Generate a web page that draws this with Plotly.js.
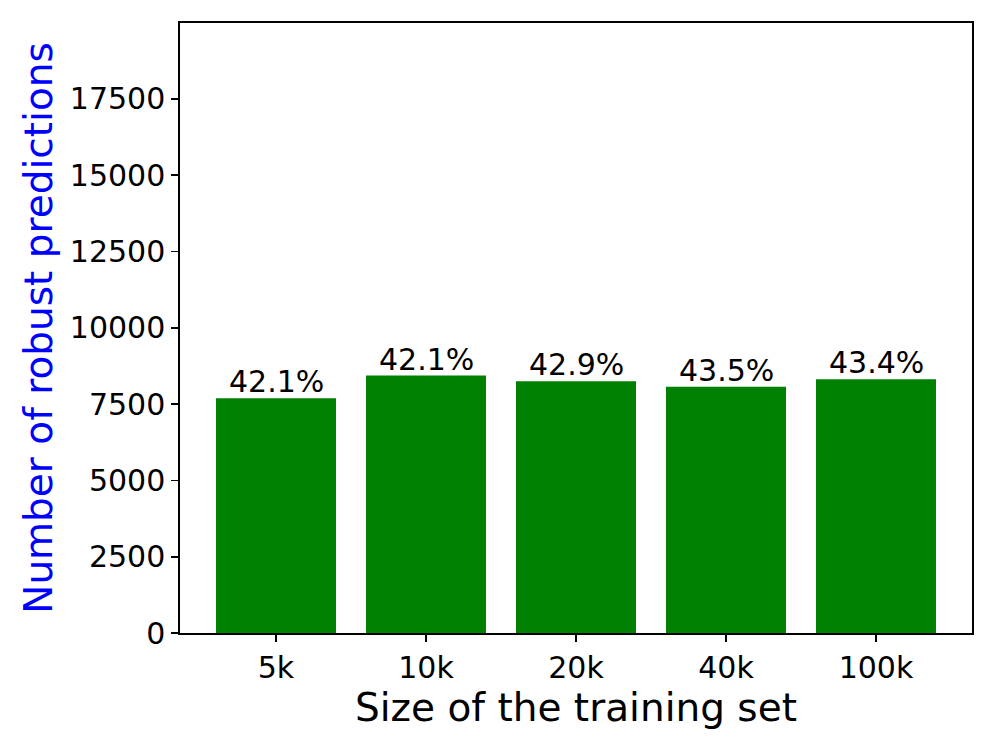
<!DOCTYPE html>
<html>
<head>
<meta charset="utf-8">
<script src="https://cdn.plot.ly/plotly-3.0.1.min.js"></script>
<style>html,body{margin:0;padding:0;background:#fff;}#chart{width:996px;height:747px;}</style>
</head>
<body>
<div id="chart"></div>
<script>
const categories = ["5k", "10k", "20k", "40k", "100k"];
const robustCounts = [7691, 8432, 8248, 8071, 8314];
const percentLabels = ["42.1%", "42.1%", "42.9%", "43.5%", "43.4%"];
const yTickValues = [0, 2500, 5000, 7500, 10000, 12500, 15000, 17500];

const font = "DejaVu Sans, sans-serif";

const trace = {
  type: "bar",
  x: categories,
  y: robustCounts,
  width: 0.8,
  marker: {color: "#008000", line: {width: 0}},
  hoverinfo: "skip"
};

const annotations = categories.map((c, i) => ({
  x: c, y: robustCounts[i], xref: "x", yref: "y",
  text: percentLabels[i], showarrow: false,
  xanchor: "center", yanchor: "bottom", yshift: -3,
  font: {family: font, size: 30, color: "#000"}
}));

const layout = {
  width: 996, height: 747,
  margin: {l: 180, r: 24, t: 23, b: 114},
  paper_bgcolor: "#fff", plot_bgcolor: "#fff",
  showlegend: false,
  font: {family: font, color: "#000"},
  xaxis: {
    type: "category",
    range: [-0.64, 4.64],
    showline: true, linecolor: "#000", linewidth: 1.7, mirror: true,
    ticks: "outside", ticklen: 7, tickwidth: 1.7, tickcolor: "#000",
    tickfont: {family: font, size: 30, color: "#000"},
    showgrid: false, zeroline: false,
    title: {text: "Size of the training set", font: {family: font, size: 39, color: "#000"}, standoff: 8}
  },
  yaxis: {
    range: [0, 19983],
    tickvals: yTickValues,
    ticktext: yTickValues.map(String),
    showline: true, linecolor: "#000", linewidth: 1.7, mirror: true,
    ticks: "outside", ticklen: 7, tickwidth: 1.7, tickcolor: "#000",
    tickfont: {family: font, size: 30, color: "#000"},
    showgrid: false, zeroline: false,
    title: {text: "Number of robust predictions", font: {family: font, size: 39, color: "#0000ff"}, standoff: 5}
  },
  annotations: annotations
};

Plotly.newPlot("chart", [trace], layout, {displayModeBar: false, staticPlot: true});
</script>
</body>
</html>
